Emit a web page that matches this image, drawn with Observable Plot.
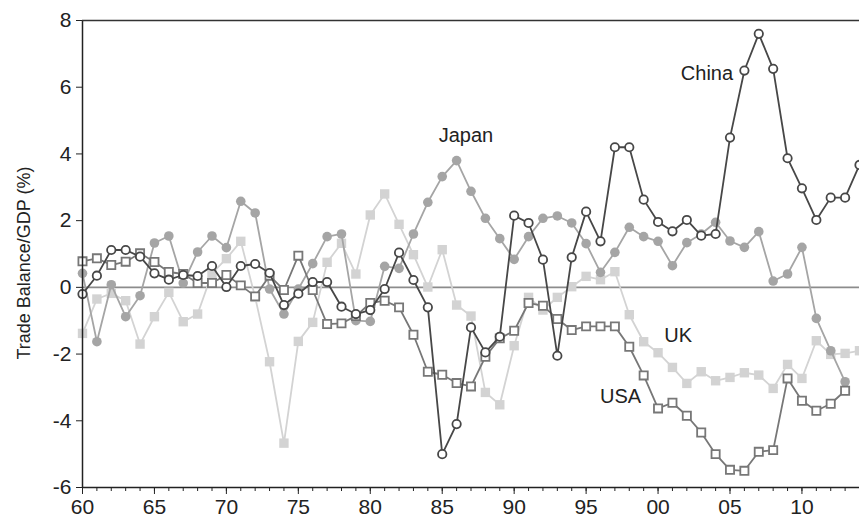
<!DOCTYPE html>
<html><head><meta charset="utf-8">
<script src="https://cdn.jsdelivr.net/npm/d3@7"></script>
<script src="https://cdn.jsdelivr.net/npm/@observablehq/plot@0.6"></script>
<style>
body{margin:0;background:#fff;overflow:hidden}
svg{font-family:"Liberation Sans",Arial,sans-serif}
</style>
</head><body><div id="chart"></div><script>
const startYear = 1960;
const china = [-0.2,0.35,1.12,1.12,0.92,0.42,0.23,0.37,0.34,0.64,0.01,0.64,0.7,0.43,-0.53,-0.19,0.16,0.16,-0.58,-0.8,
  -0.68,-0.05,1.04,0.22,-0.6,-5.0,-4.1,-1.2,-1.95,-1.48,2.15,1.93,0.83,-2.05,0.9,2.27,1.38,4.2,4.2,2.63,
  1.96,1.68,2.02,1.55,1.6,4.49,6.5,7.6,6.55,3.87,2.97,2.02,2.69,2.69,3.67];
const japan = [0.42,-1.63,0.08,-0.88,-0.25,1.33,1.54,0.13,1.06,1.54,1.19,2.58,2.23,-0.05,-0.8,-0.05,0.71,1.52,1.6,-1.0,
  -1.02,0.63,0.57,1.6,2.55,3.32,3.8,2.88,2.07,1.46,0.84,1.52,2.07,2.14,1.93,1.31,0.45,1.05,1.8,1.52,
  1.38,0.65,1.34,1.6,1.95,1.39,1.2,1.67,0.19,0.4,1.2,-0.93,-1.9,-2.83];
const uk = [-1.38,-0.35,-0.18,-0.4,-1.7,-0.88,-0.15,-1.03,-0.8,0.42,0.86,1.38,-0.3,-2.23,-4.67,-1.62,-1.05,0.75,1.32,0.4,
  2.17,2.8,1.89,0.98,0.01,1.13,-0.53,-0.86,-3.15,-3.52,-1.75,-0.3,-0.68,-0.3,0.02,0.33,0.23,0.47,-0.82,-1.63,
  -1.96,-2.4,-2.88,-2.53,-2.8,-2.7,-2.56,-2.63,-3.03,-2.31,-2.73,-1.6,-2.01,-1.98,-1.9];
const usa = [0.78,0.87,0.67,0.77,1.02,0.76,0.46,0.4,0.13,0.13,0.37,0.06,-0.27,0.35,-0.08,0.95,-0.08,-1.1,-1.08,-0.86,
  -0.47,-0.4,-0.6,-1.42,-2.53,-2.62,-2.87,-2.97,-2.08,-1.53,-1.3,-0.47,-0.55,-0.95,-1.28,-1.17,-1.17,-1.17,-1.78,-2.64,
  -3.63,-3.46,-3.85,-4.35,-5.0,-5.47,-5.5,-4.93,-4.88,-2.73,-3.4,-3.7,-3.49,-3.1];
const seriesLabels = [
  {name:"China", year:2003.4, value:6.42},
  {name:"Japan", year:1986.65, value:4.55},
  {name:"UK", year:2001.4, value:-1.46},
  {name:"USA", year:1997.4, value:-3.27}
];
const yTicks = [-6,-4,-2,0,2,4,6,8];
const majorYears = [1960,1965,1970,1975,1980,1985,1990,1995,2000,2005,2010];
const allYears = d3.range(1960, 2015);
const yTitle = "Trade Balance/GDP (%)";
const xDomain = [1960, 2014];
const yDomain = [-6, 8];

const rows = (vals) => vals.map((v, i) => ({year: startYear + i, value: v}));
const chinaRows = rows(china), japanRows = rows(japan), ukRows = rows(uk), usaRows = rows(usa);

const cChina = "#474747", cJapan = "#a5a5a5", cUK = "#d3d3d3", cUSA = "#777777";

const plot = Plot.plot({
  width: 859, height: 524,
  marginLeft: 82, marginRight: 0, marginTop: 20, marginBottom: 37,
  x: {domain: xDomain},
  y: {domain: yDomain},
  style: {fontFamily: "'Liberation Sans', Arial, sans-serif", fontSize: "20px", color: "#222", background: "#fff"},
  marks: [
    Plot.ruleY([0], {stroke: "#8c8c8c", strokeWidth: 1.6}),
    Plot.line(ukRows, {x: "year", y: "value", stroke: cUK, strokeWidth: 1.8}),
    Plot.dot(ukRows, {x: "year", y: "value", symbol: "square", r: 5.3, fill: cUK, stroke: "none"}),
    Plot.line(japanRows, {x: "year", y: "value", stroke: cJapan, strokeWidth: 1.8}),
    Plot.dot(japanRows, {x: "year", y: "value", r: 4.8, fill: cJapan, stroke: "none"}),
    Plot.line(usaRows, {x: "year", y: "value", stroke: cUSA, strokeWidth: 1.8}),
    Plot.dot(usaRows, {x: "year", y: "value", symbol: "square", r: 4.6, fill: "white", stroke: cUSA, strokeWidth: 1.8}),
    Plot.line(chinaRows, {x: "year", y: "value", stroke: cChina, strokeWidth: 1.8}),
    Plot.dot(chinaRows, {x: "year", y: "value", r: 4.2, fill: "white", stroke: cChina, strokeWidth: 1.8}),
    Plot.text(seriesLabels, {x: "year", y: "value", text: "name", fontSize: 20, fill: "#222"}),
    Plot.ruleX([xDomain[0]], {stroke: "#222", strokeWidth: 1.5}),
    Plot.ruleY([yDomain[0]], {stroke: "#222", strokeWidth: 1.5}),
    Plot.ruleY([yDomain[1]], {stroke: "#333", strokeWidth: 1.5}),
    Plot.axisY({ticks: yTicks, tickSize: 6, tickPadding: 5, tickFormat: d => String(d), label: null, stroke: "#222", fontSize: 21}),
    Plot.axisX({ticks: allYears, tickSize: 4, tickFormat: () => "", label: null, stroke: "#222"}),
    Plot.axisX({ticks: majorYears, tickSize: 7, tickPadding: 5, tickFormat: d => String(d % 100).padStart(2, "0"), label: null, stroke: "#222", fontSize: 21}),
    Plot.text([yTitle], {frameAnchor: "left", textAnchor: "middle", dx: -58, dy: 9, rotate: -90, fontSize: 18, fill: "#222"})
  ]
});
document.getElementById("chart").appendChild(plot);
</script></body></html>
